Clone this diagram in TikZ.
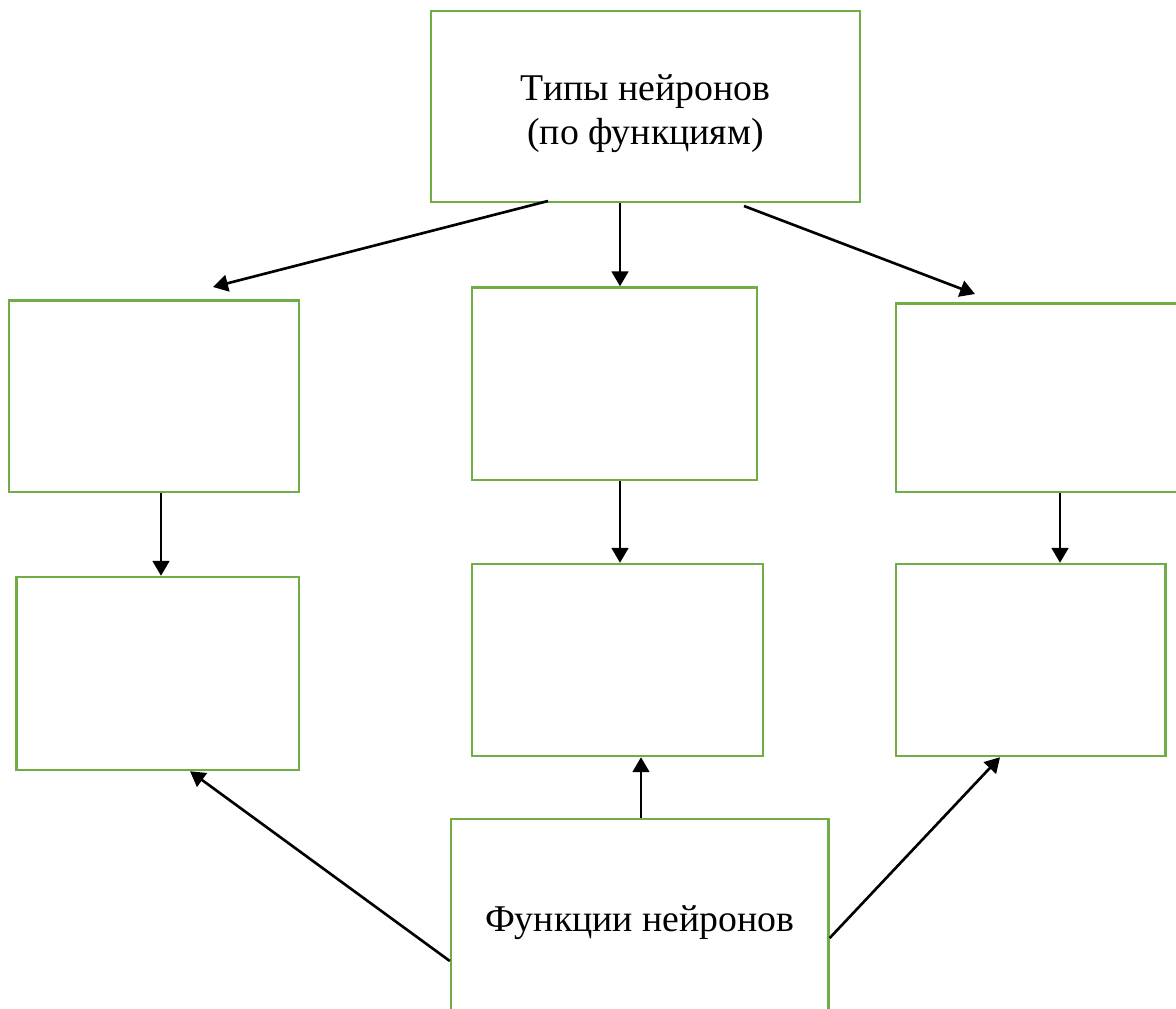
\documentclass[tikz,border=0pt]{standalone}
\usepackage{fontspec}
\setmainfont{Liberation Serif}
\usepackage{xcolor}
\definecolor{boxGreen}{HTML}{70AD47}
\usepackage{tikz}
\usetikzlibrary{arrows.meta, calc}

\tikzset{
	box/.style={draw=boxGreen, line width=1.4pt, fill=white, inner sep=0pt, align=center,
		font=\fontsize{21.5}{25}\selectfont},
	arr/.style={line width=1.5pt, -{Triangle[length=8.5pt, width=9.5pt]}}
}

\begin{document}
\begin{tikzpicture}[x=0.02cm, y=-0.02cm]
	\useasboundingbox (0,0) rectangle (1176,1008);
	% boxes
	\node[box, minimum width=8.58cm, minimum height=3.82cm] (top) at (645.5,106.5)
		{\raisebox{-4pt}[\height][\depth]{\begin{tabular}{@{}c@{}}Типы нейронов\\(по функциям)\end{tabular}}};
	\node[box, minimum width=5.80cm, minimum height=3.83cm] (left1) at (154,396.25) {};
	\node[box, minimum width=5.70cm, minimum height=3.85cm] (mid1) at (614.5,383.75) {};
	\node[box, minimum width=5.78cm, minimum height=3.77cm] (right1) at (1040.5,397.75) {};
	\node[box, minimum width=5.65cm, minimum height=3.86cm] (left2) at (157.75,673.5) {};
	\node[box, minimum width=5.82cm, minimum height=3.84cm] (mid2) at (617.5,660) {};
	\node[box, minimum width=5.39cm, minimum height=3.84cm] (right2) at (1030.75,660) {};
	\node[box, minimum width=7.55cm, minimum height=3.82cm] (bottom) at (639.75,914.5)
		{\raisebox{-4.5pt}[\height][\depth]{Функции нейронов}};
	% loose arrow ends
	\coordinate (topL) at (548,201);
	\coordinate (topR) at (744,206);
	\coordinate (inL) at (213,287);
	\coordinate (inR) at (975,294);
	% arrows from the top
	\draw[arr] (topL) -- (inL);
	\draw[arr] (top.south -| 620,0) -- (mid1.north -| 620,0);
	\draw[arr] (topR) -- (inR);
	% arrows down
	\draw[arr] (left1.south -| 161,0) -- (left2.north -| 161,0);
	\draw[arr] (mid1.south -| 620,0) -- (mid2.north -| 620,0);
	\draw[arr] (right1.south -| 1060,0) -- (right2.north -| 1060,0);
	% arrows from the bottom
	\draw[arr] (bottom.west |- 0,961) -- (left2.south -| 190,0);
	\draw[arr] (bottom.north -| 641,0) -- (mid2.south -| 641,0);
	\draw[arr] (bottom.east |- 0,938) -- (right2.south -| 1000,0);
\end{tikzpicture}
\end{document}
